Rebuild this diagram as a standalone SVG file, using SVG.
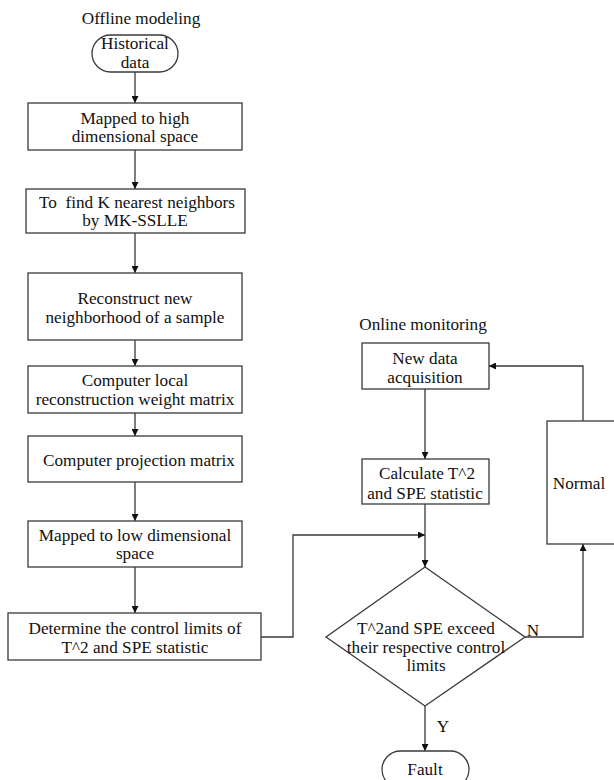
<svg xmlns="http://www.w3.org/2000/svg" width="614" height="780" viewBox="0 0 614 780">
<defs>
<style>
.b{fill:#fff;stroke:#3a3a3a;stroke-width:1.3}
.l{fill:none;stroke:#3a3a3a;stroke-width:1.3}
text{font-family:"Liberation Serif","Times New Roman",serif;font-size:17.2px;fill:#111;text-anchor:middle}
</style>
<marker id="a" viewBox="0 0 10 10" refX="10" refY="5" markerWidth="7" markerHeight="7" markerUnits="userSpaceOnUse" orient="auto">
<path d="M0,0 L10,5 L0,10 z" fill="#111"/>
</marker>
</defs>
<rect width="614" height="780" fill="#fff"/>
<text x="141" y="24">Offline modeling</text>
<text x="423" y="330">Online monitoring</text>
<g id="connectors">
<line class="l" x1="135" y1="72" x2="135" y2="103" marker-end="url(#a)"/>
<line class="l" x1="135" y1="150" x2="135" y2="189" marker-end="url(#a)"/>
<line class="l" x1="135" y1="233" x2="135" y2="273" marker-end="url(#a)"/>
<line class="l" x1="135" y1="340" x2="135" y2="366" marker-end="url(#a)"/>
<line class="l" x1="135" y1="413" x2="135" y2="436" marker-end="url(#a)"/>
<line class="l" x1="135" y1="482" x2="135" y2="521" marker-end="url(#a)"/>
<line class="l" x1="135" y1="567" x2="135" y2="613" marker-end="url(#a)"/>
<polyline class="l" points="261,637 293,637 293,535 425,535" marker-end="url(#a)"/>
<line class="l" x1="425" y1="389" x2="425" y2="459" marker-end="url(#a)"/>
<line class="l" x1="425" y1="504" x2="425" y2="567" marker-end="url(#a)"/>
<polyline class="l" points="525,637 583,637 583,544" marker-end="url(#a)"/>
<polyline class="l" points="583,421 583,366 489,366" marker-end="url(#a)"/>
<line class="l" x1="425" y1="706" x2="425" y2="751" marker-end="url(#a)"/>
<text x="533" y="636">N</text>
<text x="443" y="732">Y</text>
</g>
<g id="historical">
<rect class="b" x="92" y="35" width="86" height="37" rx="18.5"/>
<text x="135" y="49">Historical</text>
<text x="135" y="68">data</text>
</g>
<g id="high">
<rect class="b" x="28" y="103" width="214" height="47"/>
<text x="135" y="124">Mapped to high</text>
<text x="135" y="142">dimensional space</text>
</g>
<g id="knn">
<rect class="b" x="26" y="189" width="219" height="44"/>
<text x="137" y="208" xml:space="preserve">To  find K nearest neighbors</text>
<text x="135" y="226">by MK-SSLLE</text>
</g>
<g id="reconstruct">
<rect class="b" x="28" y="273" width="214" height="67"/>
<text x="135" y="304">Reconstruct new</text>
<text x="135" y="323">neighborhood of a sample</text>
</g>
<g id="weight">
<rect class="b" x="28" y="366" width="214" height="47"/>
<text x="135" y="385.5">Computer local</text>
<text x="135" y="404.5">reconstruction weight matrix</text>
</g>
<g id="projection">
<rect class="b" x="28" y="436" width="214" height="46"/>
<text x="139" y="466">Computer projection matrix</text>
</g>
<g id="low">
<rect class="b" x="28" y="521" width="214" height="46"/>
<text x="135" y="541">Mapped to low dimensional</text>
<text x="135" y="559">space</text>
</g>
<g id="limits">
<rect class="b" x="8" y="613" width="253" height="47"/>
<text x="135" y="634">Determine the control limits of</text>
<text x="135" y="653">T^2 and SPE statistic</text>
</g>
<g id="newdata">
<rect class="b" x="362" y="343" width="127" height="46"/>
<text x="425" y="364">New data</text>
<text x="425" y="383">acquisition</text>
</g>
<g id="calculate">
<rect class="b" x="362" y="459" width="127" height="45"/>
<text x="427" y="479">Calculate T^2</text>
<text x="425" y="499">and SPE statistic</text>
</g>
<g id="normal">
<rect class="b" x="547" y="421" width="72" height="123"/>
<text x="579" y="489">Normal</text>
</g>
<g id="decision">
<polygon class="b" points="425,567 525,637 425,706 326,637"/>
<text x="426" y="634">T^2and SPE exceed</text>
<text x="426" y="653">their respective control</text>
<text x="426" y="671">limits</text>
</g>
<g id="fault">
<rect class="b" x="382" y="751" width="87" height="37" rx="18.5"/>
<text x="425" y="775">Fault</text>
</g>
</svg>
